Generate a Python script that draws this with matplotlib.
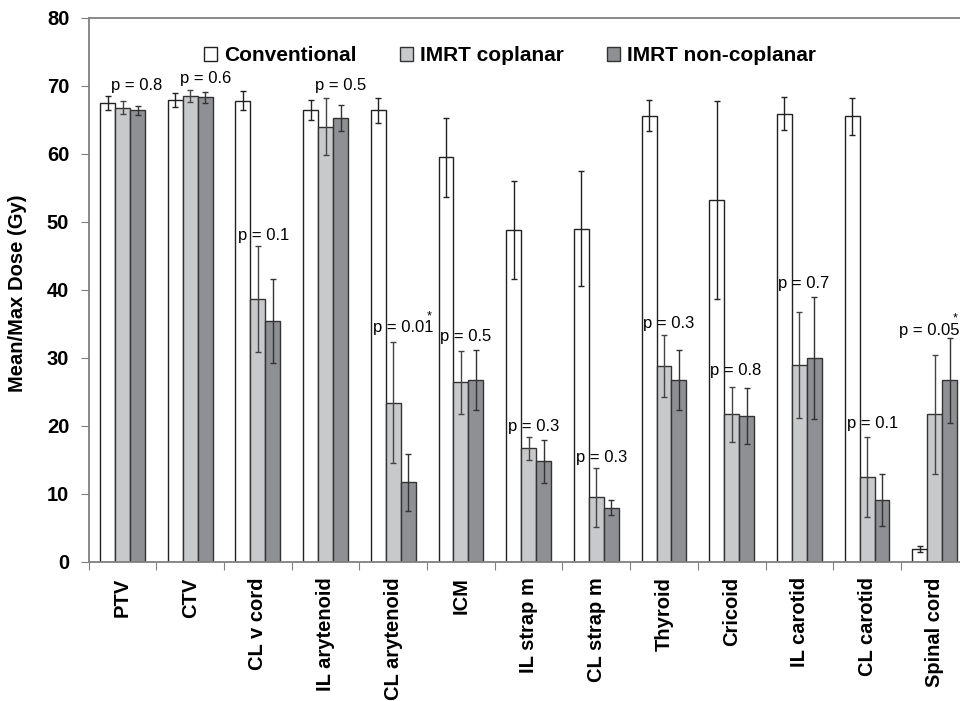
import numpy as np
import matplotlib
matplotlib.use('Agg')
import matplotlib.pyplot as plt

plt.rcParams['font.family'] = ['Liberation Sans', 'DejaVu Sans']

# Datos
organos = ['PTV', 'CTV', 'CL v cord', 'IL arytenoid', 'CL arytenoid', 'ICM',
           'IL strap m', 'CL strap m', 'Thyroid', 'Cricoid', 'IL carotid',
           'CL carotid', 'Spinal cord']
conv = [67.5, 67.9, 67.8, 66.4, 66.4, 59.5, 48.8, 49.0, 65.6, 53.2, 65.9,
        65.5, 1.9]
conv_err = [1.0, 1.0, 1.4, 1.5, 1.8, 5.8, 7.2, 8.4, 2.3, 14.6, 2.4, 2.7, 0.4]
coplanar = [66.8, 68.5, 38.6, 64.0, 23.4, 26.4, 16.7, 9.5, 28.8, 21.7, 29.0,
            12.5, 21.7]
coplanar_err = [0.9, 0.9, 7.8, 4.2, 8.9, 4.6, 1.7, 4.3, 4.5, 4.0, 7.8, 5.9,
                8.7]
no_coplanar = [66.4, 68.3, 35.4, 65.2, 11.7, 26.8, 14.8, 8.0, 26.8, 21.5,
               30.0, 9.1, 26.7]
no_coplanar_err = [0.65, 0.8, 6.2, 1.9, 4.2, 4.4, 3.2, 1.1, 4.4, 4.1, 9.0,
                   3.8, 6.2]
p_textos = ['p = 0.8', 'p = 0.6', 'p = 0.1', 'p = 0.5', 'p = 0.01', 'p = 0.5',
            'p = 0.3', 'p = 0.3', 'p = 0.3', 'p = 0.8', 'p = 0.7', 'p = 0.1',
            'p = 0.05']
p_signif = [False, False, False, False, True, False, False, False, False,
            False, False, False, True]

# Posicion de los textos p (desplazamiento en x, altura en y)
p_dx = [-0.176, -0.154, -0.289, -0.153, -0.304, -0.31, -0.30, -0.305, -0.31,
        -0.325, -0.32, -0.29, -0.524]
p_y = [70.1, 71.0, 48.0, 70.1, 34.4, 33.1, 19.9, 15.4, 35.0, 28.1, 40.9,
       20.4, 34.1]

x = np.arange(len(organos))
ancho = 0.221

fig = plt.figure(figsize=(9.6, 7.01), dpi=100)
ax = fig.add_axes([0.0924, 0.1983, 0.9165, 0.7764])

err_kw = dict(elinewidth=1, capthick=1, ecolor='#222222')
ax.bar(x - ancho, conv, ancho, yerr=conv_err, capsize=2.3, color='white',
       edgecolor='#222222', linewidth=1, label='Conventional',
       error_kw=err_kw)
ax.bar(x, coplanar, ancho, yerr=coplanar_err, capsize=2.3, color='#c8c9cb',
       edgecolor='#333333', linewidth=1, label='IMRT coplanar',
       error_kw=dict(elinewidth=1, capthick=1, ecolor='#444444'))
ax.bar(x + ancho, no_coplanar, ancho, yerr=no_coplanar_err, capsize=2.3,
       color='#8f9094', edgecolor='#333333', linewidth=1,
       label='IMRT non-coplanar',
       error_kw=dict(elinewidth=1, capthick=1, ecolor='#333333'))

for i in range(len(organos)):
    t = ax.text(x[i] + p_dx[i], p_y[i], p_textos[i], fontsize=12,
                ha='left', va='center')
    if p_signif[i]:
        ax.annotate('*', xy=(1, 1), xycoords=t, xytext=(-3, 3),
                    textcoords='offset points', ha='center', va='center',
                    fontsize=9)

ax.set_xlim(-0.5, len(organos) - 0.5)
ax.set_ylim(0, 80)
ax.set_yticks(np.arange(0, 81, 10))
ax.set_xticks(np.arange(len(organos) + 1) - 0.5)
ax.set_xticklabels([])
ax.set_xticks(x, minor=True)
ax.set_xticklabels(organos, minor=True, rotation=90, fontsize=14.5,
                   fontweight='bold', va='top', ha='center')
ax.tick_params(axis='x', which='major', length=6, color='#808080')
ax.tick_params(axis='x', which='minor', length=0, pad=11)
ax.tick_params(axis='y', length=6, color='#808080', pad=8, labelsize=14.5)
for lbl in ax.get_yticklabels():
    lbl.set_fontweight('bold')

for s in ['left', 'bottom', 'top']:
    ax.spines[s].set_color('#808080')
    ax.spines[s].set_linewidth(1.3)
ax.spines['right'].set_visible(False)

ax.set_ylabel('Mean/Max Dose (Gy)', fontsize=14.5, fontweight='bold')
ax.yaxis.set_label_coords(-0.070, 0.494)

ax.legend(loc='center', bbox_to_anchor=(0.479, 0.93), ncol=3, frameon=False,
          prop={'size': 15, 'weight': 'bold'}, handlelength=0.6,
          handleheight=0.6, handletextpad=0.35, columnspacing=2.1,
          borderpad=0)

plt.savefig('out.png', dpi=100)
